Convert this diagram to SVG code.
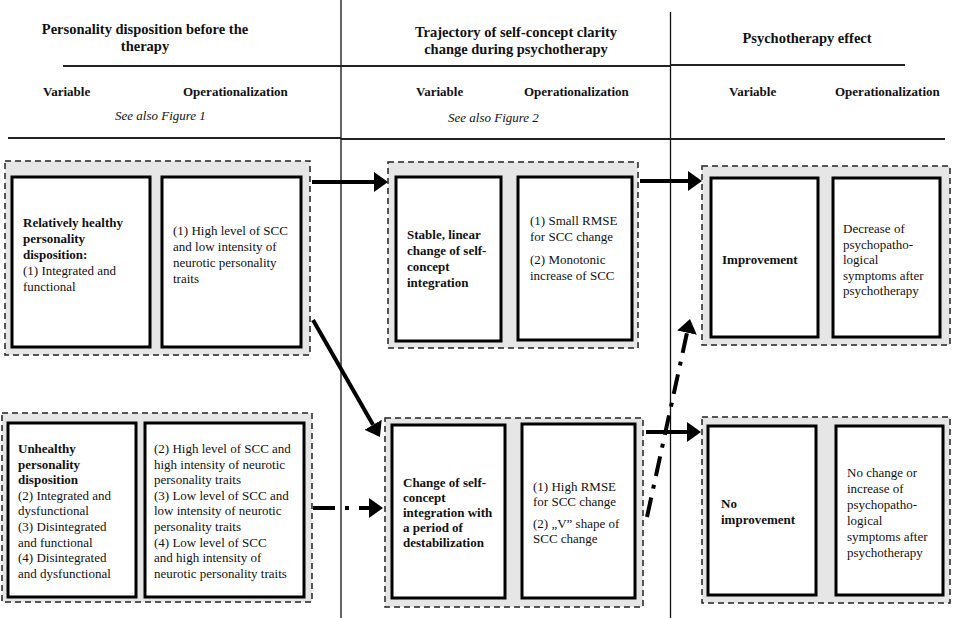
<svg xmlns="http://www.w3.org/2000/svg" width="953" height="618" viewBox="0 0 953 618">
<defs>
<style>
text{font-family:"Liberation Serif","Times New Roman",serif;font-size:13px;fill:#111}
.t{font-size:14.5px;font-weight:bold}
.h{font-weight:bold}
.i{font-style:italic}
.b{font-weight:bold}
.grp{fill:#e6e6e6;stroke:#222;stroke-width:1.5;stroke-dasharray:6 4}
.box{fill:#fff;stroke:#000;stroke-width:3}
.rule{stroke:#222;stroke-width:2}
.vline{stroke:#111;stroke-width:1.3}
.con{stroke:#000;stroke-width:4;fill:none}
.dd{stroke-dasharray:22 10 4 10}
</style>
<marker id="ah" viewBox="0 0 14 20" refX="0" refY="10" markerWidth="14" markerHeight="20" markerUnits="userSpaceOnUse" orient="auto">
<path d="M0,0 L14,10 L0,20 z" fill="#000"/>
</marker>
</defs>
<rect width="953" height="618" fill="#fff"/>

<g id="header">
<line class="vline" x1="341" y1="0" x2="341" y2="618"/>
<line class="vline" x1="670.5" y1="12" x2="670.5" y2="618"/>
<line class="rule" x1="63" y1="66" x2="341" y2="66"/>
<line class="rule" x1="341" y1="66" x2="670" y2="66"/>
<line class="rule" x1="670" y1="65" x2="905" y2="65"/>
<line class="rule" x1="8" y1="138" x2="341" y2="138"/>
<line class="rule" x1="341" y1="139" x2="670" y2="139"/>
<line class="rule" x1="670" y1="139" x2="945" y2="139"/>
<text class="t" x="145" y="34" text-anchor="middle">Personality disposition before the</text>
<text class="t" x="145" y="51" text-anchor="middle">therapy</text>
<text class="t" x="516" y="37" text-anchor="middle">Trajectory of self-concept clarity</text>
<text class="t" x="516" y="54" text-anchor="middle">change during psychotherapy</text>
<text class="t" x="807" y="43" text-anchor="middle">Psychotherapy effect</text>
<text class="h" x="43" y="96">Variable</text>
<text class="h" x="183" y="96">Operationalization</text>
<text class="h" x="416" y="96">Variable</text>
<text class="h" x="524" y="96">Operationalization</text>
<text class="h" x="729" y="96">Variable</text>
<text class="h" x="835" y="96">Operationalization</text>
<text class="i" x="115" y="120">See also Figure 1</text>
<text class="i" x="448" y="122">See also Figure 2</text>
</g>

<g id="healthy">
<rect class="grp" x="5" y="161" width="305" height="194"/>
<rect class="box" x="12" y="177" width="138" height="170"/>
<rect class="box" x="162" y="177" width="139" height="170"/>
<text x="23" y="227"><tspan class="b">Relatively healthy</tspan><tspan class="b" x="23" dy="16">personality</tspan><tspan class="b" x="23" dy="16">disposition:</tspan><tspan x="23" dy="16">(1) Integrated and</tspan><tspan x="23" dy="16">functional</tspan></text>
<text x="173" y="235">(1) High level of SCC<tspan x="173" dy="16">and low intensity of</tspan><tspan x="173" dy="16">neurotic personality</tspan><tspan x="173" dy="16">traits</tspan></text>
</g>

<g id="unhealthy">
<rect class="grp" x="2" y="413" width="310" height="189"/>
<rect class="box" x="8" y="423" width="128" height="174"/>
<rect class="box" x="145" y="423" width="159" height="174"/>
<text x="18" y="453"><tspan class="b">Unhealthy</tspan><tspan class="b" x="18" dy="15.6">personality</tspan><tspan class="b" x="18" dy="15.6">disposition</tspan><tspan x="18" dy="15.6">(2) Integrated and</tspan><tspan x="18" dy="15.6">dysfunctional</tspan><tspan x="18" dy="15.6">(3) Disintegrated</tspan><tspan x="18" dy="15.6">and functional</tspan><tspan x="18" dy="15.6">(4) Disintegrated</tspan><tspan x="18" dy="15.6">and dysfunctional</tspan></text>
<text x="154" y="453">(2) High level of SCC and<tspan x="154" dy="15.6">high intensity of neurotic</tspan><tspan x="154" dy="15.6">personality traits</tspan><tspan x="154" dy="15.6">(3) Low level of SCC and</tspan><tspan x="154" dy="15.6">low intensity of neurotic</tspan><tspan x="154" dy="15.6">personality traits</tspan><tspan x="154" dy="15.6">(4) Low level of  SCC</tspan><tspan x="154" dy="15.6">and high intensity of</tspan><tspan x="154" dy="15.6">neurotic personality traits</tspan></text>
</g>

<g id="stable">
<rect class="grp" x="388" y="162" width="250" height="186"/>
<rect class="box" x="396" y="177" width="105" height="164"/>
<rect class="box" x="518" y="177" width="114" height="163"/>
<text class="b" x="407" y="239">Stable, linear<tspan x="407" dy="16">change of self-</tspan><tspan x="407" dy="16">concept</tspan><tspan x="407" dy="16">integration</tspan></text>
<text x="530" y="225">(1) Small RMSE<tspan x="530" dy="16">for SCC change</tspan><tspan x="530" dy="23">(2) Monotonic</tspan><tspan x="530" dy="16">increase of SCC</tspan></text>
</g>

<g id="destab">
<rect class="grp" x="385" y="418" width="258" height="189"/>
<rect class="box" x="392" y="425" width="113" height="173"/>
<rect class="box" x="522" y="424" width="113" height="174"/>
<text class="b" x="403" y="487">Change of self-<tspan x="403" dy="15">concept</tspan><tspan x="403" dy="15">integration with</tspan><tspan x="403" dy="15">a period of</tspan><tspan x="403" dy="15">destabilization</tspan></text>
<text x="533" y="491">(1) High RMSE<tspan x="533" dy="15">for SCC change</tspan><tspan x="533" dy="22">(2) „V” shape of</tspan><tspan x="533" dy="15">SCC change</tspan></text>
</g>

<g id="improvement">
<rect class="grp" x="702" y="166" width="248" height="179"/>
<rect class="box" x="711" y="178" width="107" height="159"/>
<rect class="box" x="833" y="178" width="107" height="159"/>
<text class="b" x="722" y="264">Improvement</text>
<text x="843" y="233">Decrease of<tspan x="843" dy="15.5">psychopatho-</tspan><tspan x="843" dy="15.5">logical</tspan><tspan x="843" dy="15.5">symptoms after</tspan><tspan x="843" dy="15.5">psychotherapy</tspan></text>
</g>

<g id="noimprovement">
<rect class="grp" x="702" y="417" width="248" height="186"/>
<rect class="box" x="708" y="426" width="108" height="169"/>
<rect class="box" x="836" y="426" width="107" height="169"/>
<text class="b" x="721" y="508">No<tspan x="721" dy="16">improvement</tspan></text>
<text x="847" y="477">No change or<tspan x="847" dy="16">increase of</tspan><tspan x="847" dy="16">psychopatho-</tspan><tspan x="847" dy="16">logical</tspan><tspan x="847" dy="16">symptoms after</tspan><tspan x="847" dy="16">psychotherapy</tspan></text>
</g>

<g id="connectors">
<line class="con" x1="312" y1="182" x2="374" y2="182" marker-end="url(#ah)"/>
<line class="con" x1="313" y1="320" x2="373" y2="424.8" marker-end="url(#ah)"/>
<line class="con dd" x1="313" y1="508" x2="369" y2="508" marker-end="url(#ah)"/>
<line class="con" x1="640" y1="181" x2="688" y2="181" marker-end="url(#ah)"/>
<line class="con" x1="646" y1="432" x2="687" y2="432" marker-end="url(#ah)"/>
<line class="con" x1="647" y1="517" x2="687" y2="332.7" marker-end="url(#ah)" stroke-dasharray="20 9 4 9"/>
</g>
</svg>
